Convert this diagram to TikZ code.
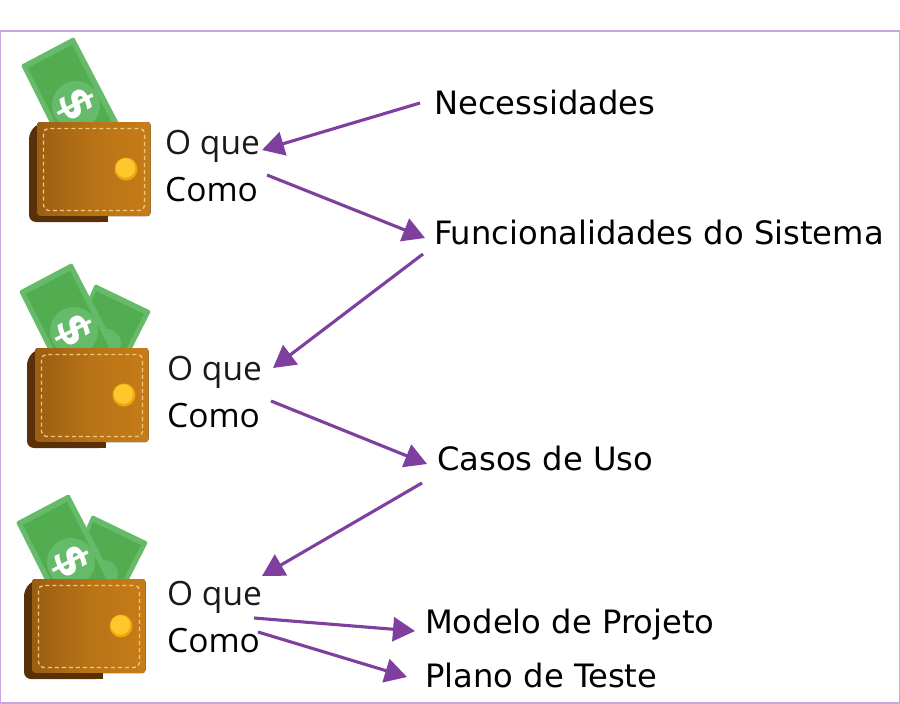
\documentclass[tikz,border=0pt]{standalone}
\usepackage{fontspec}
\setmainfont{Open Sans}
\newfontfamily\labelfont{DejaVu Sans}
\usetikzlibrary{arrows.meta}
\definecolor{framec}{HTML}{C8A8DC}
\definecolor{arrowc}{HTML}{7F3F9F}
\definecolor{billlight}{HTML}{66BB6A}
\definecolor{billdark}{HTML}{52AC50}
\definecolor{walleta}{HTML}{9A5E12}
\definecolor{walletb}{HTML}{C67C18}
\definecolor{walletback}{HTML}{5A3008}
\definecolor{stitch}{HTML}{F3C878}
\definecolor{coin}{HTML}{FFC72C}
\definecolor{coind}{HTML}{EDA512}
\definecolor{txt}{HTML}{1A1A1A}
\tikzset{
  x=1pt,y=-1pt,
  framebox/.style={draw=framec,line width=1.2pt,fill=white},
  shortlabel/.style={anchor=base west,inner sep=0pt,font=\fontsize{33.5}{34}\selectfont,text=txt},
  comolabel/.style={shortlabel,text=black},
  longlabel/.style={anchor=base west,inner sep=0pt,font=\labelfont\fontsize{32.2}{33}\selectfont,text=black},
  link/.style={draw=arrowc,line width=3.1pt,-{Triangle[length=22pt,width=24pt]}},
}
\newcommand{\wallet}[3]{% x offset, y offset, second bill (1/0)
  \begin{scope}[shift={(#1,#2)}]
    \ifnum#3=1
      \fill[billlight,rounded corners=1.5pt] (97,58) -- (153,85) -- (125,140) -- (70,120) -- cycle;
      \fill[billdark] (98,65) -- (146,88) -- (122,135) -- (76,118) -- cycle;
      \fill[billlight!85!billdark] (109,117) circle (14);
    \fi
    % front bill
    \fill[billlight,rounded corners=1.5pt] (74,37) -- (21,65) -- (56,135) -- (125,135) -- cycle;
    \fill[billdark] (72,45) -- (28,68) -- (62,135) -- (118,135) -- cycle;
    \fill[billlight] (76,105) circle (24);
    \node[inner sep=0pt,text=white,rotate=-62,font=\labelfont\bfseries\fontsize{44}{44}\selectfont] (dollar#2) at (76,105) {\$};
    % wallet
    \fill[walletback,rounded corners=7pt] (108,222) -- (29,222) -- (29,132) -- (40,122) -- (108,122) -- cycle;
    \fill[walletback] (90,200) rectangle (108,222);
    \fill[left color=walleta,right color=walletb,middle color=walletb!70!walleta,rounded corners=3pt] (37,122) rectangle (150.5,216);
    \draw[stitch,line width=1.3pt,dash pattern=on 4pt off 3pt,rounded corners=5pt] (43.5,128.5) rectangle (144.5,210.5);
    \fill[coind] (126,169) circle (11.5);
    \fill[coin] (125.5,168) circle (9.8);
  \end{scope}
}
\begin{document}
\begin{tikzpicture}
\useasboundingbox (0,0) rectangle (900,704);
\fill[white] (0,0) rectangle (900,704);
\draw[framebox] (0.6,31) rectangle (899.4,703);
\wallet{0}{0}{0}
\wallet{-2}{226}{1}
\wallet{-5}{457}{1}
\node[shortlabel] (que1) at (165,154) {O que};
\node[comolabel] (como1) at (165,201) {Como};
\node[shortlabel] (que2) at (167,380) {O que};
\node[comolabel] (como2) at (167,427) {Como};
\node[shortlabel] (que3) at (167,605) {O que};
\node[comolabel] (como3) at (167,652) {Como};
\node[longlabel] (nec) at (434,114) {Necessidades};
\node[longlabel] (fun) at (434,244) {Funcionalidades do Sistema};
\node[longlabel] (cas) at (437,470) {Casos de Uso};
\node[longlabel] (mod) at (425,633) {Modelo de Projeto};
\node[longlabel] (pla) at (425,687) {Plano de Teste};
\coordinate (a1s) at (420,103); \coordinate (a1e) at (262,150);
\coordinate (a2s) at (267,175); \coordinate (a2e) at (425,238);
\coordinate (a3s) at (423,254); \coordinate (a3e) at (273,368);
\coordinate (a4s) at (271,401); \coordinate (a4e) at (427,464);
\coordinate (a5s) at (422,483); \coordinate (a5e) at (262,576);
\coordinate (a6s) at (254,618); \coordinate (a6e) at (415,631);
\coordinate (a7s) at (258,632); \coordinate (a7e) at (407,677);
\foreach \i in {1,...,7} \draw[link] (a\i s) -- (a\i e);
\end{tikzpicture}
\end{document}
